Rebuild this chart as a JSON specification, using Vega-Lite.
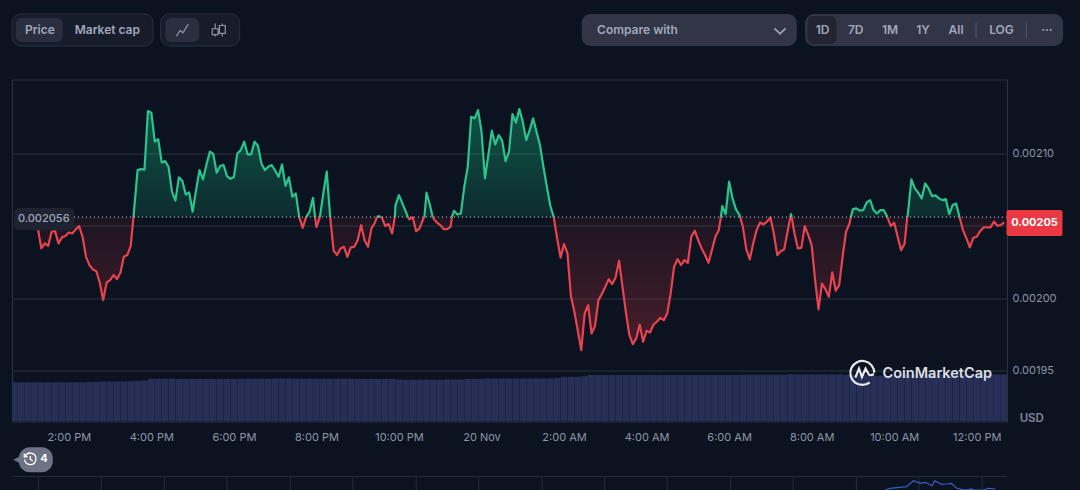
{
  "$schema": "https://vega.github.io/schema/vega-lite/v6.json",
  "width": 995,
  "height": 342,
  "autosize": "none",
  "padding": {"left": 12, "top": 79.5, "right": 73, "bottom": 68.5},
  "background": "#0b1220",
  "view": {"stroke": "#2b3340"},
  "config": {
    "font": "Inter",
    "style": {
      "btn": {"fontSize": 12, "fontWeight": 600, "baseline": "middle", "align": "center"}
    }
  },
  "data": {"values": [{}]},
  "datasets": {
    "volume": [
      {"time":"2023-11-19T12:40","volume":11.5},{"time":"2023-11-19T12:50","volume":11.5},{"time":"2023-11-19T13:00","volume":11.5},{"time":"2023-11-19T13:10","volume":11.5},{"time":"2023-11-19T13:20","volume":11.5},{"time":"2023-11-19T13:30","volume":11.5},{"time":"2023-11-19T13:40","volume":11.5},{"time":"2023-11-19T13:50","volume":11.5},{"time":"2023-11-19T14:00","volume":11.5},{"time":"2023-11-19T14:10","volume":11.5},{"time":"2023-11-19T14:20","volume":11.5},{"time":"2023-11-19T14:30","volume":11.6},{"time":"2023-11-19T14:40","volume":11.6},{"time":"2023-11-19T14:50","volume":11.7},{"time":"2023-11-19T15:00","volume":11.7},{"time":"2023-11-19T15:10","volume":11.7},{"time":"2023-11-19T15:20","volume":11.7},{"time":"2023-11-19T15:30","volume":11.8},{"time":"2023-11-19T15:40","volume":11.9},{"time":"2023-11-19T15:50","volume":12.0},{"time":"2023-11-19T16:00","volume":12.4},
      {"time":"2023-11-19T16:10","volume":12.5},{"time":"2023-11-19T16:20","volume":12.5},{"time":"2023-11-19T16:30","volume":12.5},{"time":"2023-11-19T16:40","volume":12.4},{"time":"2023-11-19T16:50","volume":12.4},{"time":"2023-11-19T17:00","volume":12.4},{"time":"2023-11-19T17:10","volume":12.4},{"time":"2023-11-19T17:20","volume":12.4},{"time":"2023-11-19T17:30","volume":12.4},{"time":"2023-11-19T17:40","volume":12.4},{"time":"2023-11-19T17:50","volume":12.4},{"time":"2023-11-19T18:00","volume":12.4},{"time":"2023-11-19T18:10","volume":12.5},{"time":"2023-11-19T18:20","volume":12.5},{"time":"2023-11-19T18:30","volume":12.5},{"time":"2023-11-19T18:40","volume":12.5},{"time":"2023-11-19T18:50","volume":12.5},{"time":"2023-11-19T19:00","volume":12.6},{"time":"2023-11-19T19:10","volume":12.6},{"time":"2023-11-19T19:20","volume":12.6},{"time":"2023-11-19T19:30","volume":12.5},{"time":"2023-11-19T19:40","volume":12.5},{"time":"2023-11-19T19:50","volume":12.5},{"time":"2023-11-19T20:00","volume":12.5},{"time":"2023-11-19T20:10","volume":12.5},{"time":"2023-11-19T20:20","volume":12.5},{"time":"2023-11-19T20:30","volume":12.5},{"time":"2023-11-19T20:40","volume":12.5},{"time":"2023-11-19T20:50","volume":12.5},{"time":"2023-11-19T21:00","volume":12.4},{"time":"2023-11-19T21:10","volume":12.4},{"time":"2023-11-19T21:20","volume":12.4},{"time":"2023-11-19T21:30","volume":12.4},{"time":"2023-11-19T21:40","volume":12.4},{"time":"2023-11-19T21:50","volume":12.4},{"time":"2023-11-19T22:00","volume":12.3},{"time":"2023-11-19T22:10","volume":12.2},{"time":"2023-11-19T22:20","volume":12.2},{"time":"2023-11-19T22:30","volume":12.2},{"time":"2023-11-19T22:40","volume":12.2},{"time":"2023-11-19T22:50","volume":12.2},{"time":"2023-11-19T23:00","volume":12.2},{"time":"2023-11-19T23:10","volume":12.3},{"time":"2023-11-19T23:20","volume":12.3},{"time":"2023-11-19T23:30","volume":12.3},{"time":"2023-11-19T23:40","volume":12.4},{"time":"2023-11-19T23:50","volume":12.4},
      {"time":"2023-11-20T00:00","volume":12.5},{"time":"2023-11-20T00:10","volume":12.6},{"time":"2023-11-20T00:20","volume":12.6},{"time":"2023-11-20T00:30","volume":12.6},{"time":"2023-11-20T00:40","volume":12.6},{"time":"2023-11-20T00:50","volume":12.6},{"time":"2023-11-20T01:00","volume":12.6},{"time":"2023-11-20T01:10","volume":12.6},{"time":"2023-11-20T01:20","volume":12.6},{"time":"2023-11-20T01:30","volume":12.6},{"time":"2023-11-20T01:40","volume":12.6},{"time":"2023-11-20T01:50","volume":12.7},{"time":"2023-11-20T02:00","volume":13.1},{"time":"2023-11-20T02:10","volume":13.1},{"time":"2023-11-20T02:20","volume":13.1},{"time":"2023-11-20T02:30","volume":13.2},{"time":"2023-11-20T02:40","volume":13.6},{"time":"2023-11-20T02:50","volume":13.6},{"time":"2023-11-20T03:00","volume":13.6},{"time":"2023-11-20T03:10","volume":13.6},{"time":"2023-11-20T03:20","volume":13.6},{"time":"2023-11-20T03:30","volume":13.6},{"time":"2023-11-20T03:40","volume":13.6},{"time":"2023-11-20T03:50","volume":13.6},{"time":"2023-11-20T04:00","volume":13.6},{"time":"2023-11-20T04:10","volume":13.6},{"time":"2023-11-20T04:20","volume":13.6},{"time":"2023-11-20T04:30","volume":13.6},{"time":"2023-11-20T04:40","volume":13.6},{"time":"2023-11-20T04:50","volume":13.6},{"time":"2023-11-20T05:00","volume":13.6},{"time":"2023-11-20T05:10","volume":13.6},{"time":"2023-11-20T05:20","volume":13.6},{"time":"2023-11-20T05:30","volume":13.6},{"time":"2023-11-20T05:40","volume":13.6},{"time":"2023-11-20T05:50","volume":13.6},{"time":"2023-11-20T06:00","volume":13.6},{"time":"2023-11-20T06:10","volume":13.6},{"time":"2023-11-20T06:20","volume":13.7},{"time":"2023-11-20T06:30","volume":13.7},{"time":"2023-11-20T06:40","volume":13.7},{"time":"2023-11-20T06:50","volume":13.7},{"time":"2023-11-20T07:00","volume":13.7},{"time":"2023-11-20T07:10","volume":13.7},{"time":"2023-11-20T07:20","volume":13.7},{"time":"2023-11-20T07:30","volume":13.8},{"time":"2023-11-20T07:40","volume":13.8},{"time":"2023-11-20T07:50","volume":13.8},{"time":"2023-11-20T08:00","volume":13.8},{"time":"2023-11-20T08:10","volume":13.8},{"time":"2023-11-20T08:20","volume":13.8},{"time":"2023-11-20T08:30","volume":13.8},{"time":"2023-11-20T08:40","volume":13.8},{"time":"2023-11-20T08:50","volume":13.7},{"time":"2023-11-20T09:00","volume":13.7},{"time":"2023-11-20T09:10","volume":13.7},{"time":"2023-11-20T09:20","volume":13.6},{"time":"2023-11-20T09:30","volume":13.4},{"time":"2023-11-20T09:40","volume":13.4},{"time":"2023-11-20T09:50","volume":13.4},{"time":"2023-11-20T10:00","volume":13.5},{"time":"2023-11-20T10:10","volume":13.7},{"time":"2023-11-20T10:20","volume":13.8},{"time":"2023-11-20T10:30","volume":13.8},{"time":"2023-11-20T10:40","volume":13.8},{"time":"2023-11-20T10:50","volume":13.8},{"time":"2023-11-20T11:00","volume":13.8},{"time":"2023-11-20T11:10","volume":13.8},{"time":"2023-11-20T11:20","volume":13.8},{"time":"2023-11-20T11:30","volume":13.8},{"time":"2023-11-20T11:40","volume":13.8},{"time":"2023-11-20T11:50","volume":13.8},{"time":"2023-11-20T12:00","volume":13.8},{"time":"2023-11-20T12:10","volume":13.8},{"time":"2023-11-20T12:20","volume":13.8},{"time":"2023-11-20T12:30","volume":13.8},{"time":"2023-11-20T12:40","volume":13.8}
    ],
    "above": [
      {"time":"2023-11-19T15:34","price":0.002056,"run":1},{"time":"2023-11-19T15:40","price":0.0020884,"run":1},{"time":"2023-11-19T15:45","price":0.0020891,"run":1},{"time":"2023-11-19T15:50","price":0.0020887,"run":1},{"time":"2023-11-19T15:55","price":0.0021291,"run":1},{"time":"2023-11-19T16:00","price":0.002128,"run":1},{"time":"2023-11-19T16:05","price":0.002108,"run":1},{"time":"2023-11-19T16:10","price":0.0021098,"run":1},{"time":"2023-11-19T16:15","price":0.0020937,"run":1},{"time":"2023-11-19T16:20","price":0.0020946,"run":1},{"time":"2023-11-19T16:25","price":0.0020907,"run":1},{"time":"2023-11-19T16:30","price":0.0020735,"run":1},{"time":"2023-11-19T16:35","price":0.0020673,"run":1},{"time":"2023-11-19T16:40","price":0.0020834,"run":1},{"time":"2023-11-19T16:45","price":0.0020811,"run":1},{"time":"2023-11-19T16:50","price":0.0020716,"run":1},{"time":"2023-11-19T16:55","price":0.002073,"run":1},{"time":"2023-11-19T17:00","price":0.0020597,"run":1},{"time":"2023-11-19T17:05","price":0.0020746,"run":1},{"time":"2023-11-19T17:10","price":0.0020884,"run":1},{"time":"2023-11-19T17:15","price":0.002082,"run":1},{"time":"2023-11-19T17:20","price":0.0020919,"run":1},{"time":"2023-11-19T17:25","price":0.0021011,"run":1},{"time":"2023-11-19T17:30","price":0.0020995,"run":1},{"time":"2023-11-19T17:35","price":0.0020866,"run":1},{"time":"2023-11-19T17:40","price":0.0020912,"run":1},{"time":"2023-11-19T17:45","price":0.0020919,"run":1},{"time":"2023-11-19T17:50","price":0.0020843,"run":1},{"time":"2023-11-19T17:55","price":0.0020824,"run":1},{"time":"2023-11-19T18:00","price":0.0020836,"run":1},{"time":"2023-11-19T18:05","price":0.0020999,"run":1},{"time":"2023-11-19T18:10","price":0.0021022,"run":1},{"time":"2023-11-19T18:15","price":0.002108,"run":1},{"time":"2023-11-19T18:20","price":0.0020992,"run":1},{"time":"2023-11-19T18:25","price":0.0020992,"run":1},{"time":"2023-11-19T18:30","price":0.002108,"run":1},{"time":"2023-11-19T18:35","price":0.0021052,"run":1},{"time":"2023-11-19T18:40","price":0.002093,"run":1},{"time":"2023-11-19T18:45","price":0.0020884,"run":1},{"time":"2023-11-19T18:50","price":0.0020907,"run":1},{"time":"2023-11-19T18:55","price":0.0020919,"run":1},{"time":"2023-11-19T19:00","price":0.002088,"run":1},{"time":"2023-11-19T19:05","price":0.0020838,"run":1},{"time":"2023-11-19T19:10","price":0.0020923,"run":1},{"time":"2023-11-19T19:15","price":0.0020776,"run":1},{"time":"2023-11-19T19:20","price":0.0020834,"run":1},{"time":"2023-11-19T19:25","price":0.00207,"run":1},{"time":"2023-11-19T19:30","price":0.0020723,"run":1},{"time":"2023-11-19T19:35","price":0.002056,"run":1},
      {"time":"2023-11-19T19:45","price":0.002056,"run":2},{"time":"2023-11-19T19:50","price":0.0020597,"run":2},{"time":"2023-11-19T19:55","price":0.0020693,"run":2},{"time":"2023-11-19T19:58","price":0.002056,"run":2},
      {"time":"2023-11-19T20:05","price":0.002056,"run":3},{"time":"2023-11-19T20:10","price":0.0020723,"run":3},{"time":"2023-11-19T20:15","price":0.0020873,"run":3},{"time":"2023-11-19T20:20","price":0.002056,"run":3},
      {"time":"2023-11-19T21:28","price":0.002056,"run":4},{"time":"2023-11-19T21:30","price":0.0020567,"run":4},{"time":"2023-11-19T21:33","price":0.002056,"run":4},
      {"time":"2023-11-19T21:54","price":0.002056,"run":5},{"time":"2023-11-19T21:55","price":0.0020643,"run":5},{"time":"2023-11-19T22:00","price":0.0020712,"run":5},{"time":"2023-11-19T22:05","price":0.0020654,"run":5},{"time":"2023-11-19T22:10","price":0.0020597,"run":5},{"time":"2023-11-19T22:13","price":0.002056,"run":5},
      {"time":"2023-11-19T22:37","price":0.002056,"run":6},{"time":"2023-11-19T22:40","price":0.0020728,"run":6},{"time":"2023-11-19T22:45","price":0.0020643,"run":6},{"time":"2023-11-19T22:49","price":0.002056,"run":6},
      {"time":"2023-11-19T23:17","price":0.002056,"run":7},{"time":"2023-11-19T23:20","price":0.0020603,"run":7},{"time":"2023-11-19T23:25","price":0.0020578,"run":7},{"time":"2023-11-19T23:30","price":0.0020585,"run":7},{"time":"2023-11-19T23:35","price":0.0020769,"run":7},{"time":"2023-11-19T23:40","price":0.0020907,"run":7},{"time":"2023-11-19T23:45","price":0.0021252,"run":7},{"time":"2023-11-19T23:50","price":0.0021241,"run":7},{"time":"2023-11-19T23:55","price":0.0021298,"run":7},{"time":"2023-11-20T00:00","price":0.0021149,"run":7},{"time":"2023-11-20T00:05","price":0.0020827,"run":7},{"time":"2023-11-20T00:10","price":0.0020988,"run":7},{"time":"2023-11-20T00:15","price":0.0021156,"run":7},{"time":"2023-11-20T00:20","price":0.0021061,"run":7},{"time":"2023-11-20T00:25","price":0.0021126,"run":7},{"time":"2023-11-20T00:30","price":0.0021087,"run":7},{"time":"2023-11-20T00:35","price":0.0020946,"run":7},{"time":"2023-11-20T00:40","price":0.0021011,"run":7},{"time":"2023-11-20T00:45","price":0.0021271,"run":7},{"time":"2023-11-20T00:50","price":0.0021211,"run":7},{"time":"2023-11-20T00:55","price":0.0021305,"run":7},{"time":"2023-11-20T01:00","price":0.0021218,"run":7},{"time":"2023-11-20T01:05","price":0.0021091,"run":7},{"time":"2023-11-20T01:10","price":0.002116,"run":7},{"time":"2023-11-20T01:15","price":0.0021241,"run":7},{"time":"2023-11-20T01:20","price":0.0021149,"run":7},{"time":"2023-11-20T01:25","price":0.0021057,"run":7},{"time":"2023-11-20T01:30","price":0.0020907,"run":7},{"time":"2023-11-20T01:35","price":0.0020769,"run":7},{"time":"2023-11-20T01:40","price":0.0020638,"run":7},{"time":"2023-11-20T01:45","price":0.002056,"run":7},
      {"time":"2023-11-20T05:48","price":0.002056,"run":8},{"time":"2023-11-20T05:50","price":0.0020636,"run":8},{"time":"2023-11-20T05:55","price":0.0020581,"run":8},{"time":"2023-11-20T06:00","price":0.0020804,"run":8},{"time":"2023-11-20T06:05","price":0.0020689,"run":8},{"time":"2023-11-20T06:10","price":0.0020613,"run":8},{"time":"2023-11-20T06:15","price":0.0020574,"run":8},{"time":"2023-11-20T06:16","price":0.002056,"run":8},
      {"time":"2023-11-20T07:29","price":0.002056,"run":9},{"time":"2023-11-20T07:30","price":0.0020581,"run":9},{"time":"2023-11-20T07:31","price":0.002056,"run":9},
      {"time":"2023-11-20T08:57","price":0.002056,"run":10},{"time":"2023-11-20T09:00","price":0.0020615,"run":10},{"time":"2023-11-20T09:05","price":0.002062,"run":10},{"time":"2023-11-20T09:10","price":0.0020604,"run":10},{"time":"2023-11-20T09:15","price":0.0020608,"run":10},{"time":"2023-11-20T09:20","price":0.0020661,"run":10},{"time":"2023-11-20T09:25","price":0.0020677,"run":10},{"time":"2023-11-20T09:30","price":0.0020608,"run":10},{"time":"2023-11-20T09:35","price":0.0020585,"run":10},{"time":"2023-11-20T09:40","price":0.0020608,"run":10},{"time":"2023-11-20T09:45","price":0.0020608,"run":10},{"time":"2023-11-20T09:50","price":0.002056,"run":10},
      {"time":"2023-11-20T10:19","price":0.002056,"run":11},{"time":"2023-11-20T10:20","price":0.0020585,"run":11},{"time":"2023-11-20T10:25","price":0.002082,"run":11},{"time":"2023-11-20T10:30","price":0.0020758,"run":11},{"time":"2023-11-20T10:35","price":0.0020728,"run":11},{"time":"2023-11-20T10:40","price":0.0020689,"run":11},{"time":"2023-11-20T10:45","price":0.0020792,"run":11},{"time":"2023-11-20T10:50","price":0.0020758,"run":11},{"time":"2023-11-20T10:55","price":0.0020705,"run":11},{"time":"2023-11-20T11:00","price":0.002071,"run":11},{"time":"2023-11-20T11:05","price":0.0020689,"run":11},{"time":"2023-11-20T11:10","price":0.0020677,"run":11},{"time":"2023-11-20T11:15","price":0.0020684,"run":11},{"time":"2023-11-20T11:20","price":0.0020581,"run":11},{"time":"2023-11-20T11:25","price":0.0020643,"run":11},{"time":"2023-11-20T11:30","price":0.0020654,"run":11},{"time":"2023-11-20T11:35","price":0.002056,"run":11}
    ],
    "below": [
      {"time":"2023-11-19T13:15","price":0.0020482,"run":1},{"time":"2023-11-19T13:20","price":0.0020344,"run":1},{"time":"2023-11-19T13:25","price":0.0020378,"run":1},{"time":"2023-11-19T13:30","price":0.0020362,"run":1},{"time":"2023-11-19T13:35","price":0.0020459,"run":1},{"time":"2023-11-19T13:40","price":0.0020463,"run":1},{"time":"2023-11-19T13:45","price":0.0020378,"run":1},{"time":"2023-11-19T13:50","price":0.002042,"run":1},{"time":"2023-11-19T13:55","price":0.0020429,"run":1},{"time":"2023-11-19T14:00","price":0.0020454,"run":1},{"time":"2023-11-19T14:05","price":0.0020447,"run":1},{"time":"2023-11-19T14:10","price":0.0020475,"run":1},{"time":"2023-11-19T14:15","price":0.0020498,"run":1},{"time":"2023-11-19T14:20","price":0.0020424,"run":1},{"time":"2023-11-19T14:25","price":0.0020286,"run":1},{"time":"2023-11-19T14:30","price":0.0020229,"run":1},{"time":"2023-11-19T14:35","price":0.0020199,"run":1},{"time":"2023-11-19T14:40","price":0.0020187,"run":1},{"time":"2023-11-19T14:45","price":0.0020107,"run":1},{"time":"2023-11-19T14:50","price":0.0019987,"run":1},{"time":"2023-11-19T14:55","price":0.0020109,"run":1},{"time":"2023-11-19T15:00","price":0.0020125,"run":1},{"time":"2023-11-19T15:05","price":0.002016,"run":1},{"time":"2023-11-19T15:10","price":0.0020132,"run":1},{"time":"2023-11-19T15:15","price":0.0020176,"run":1},{"time":"2023-11-19T15:20","price":0.0020286,"run":1},{"time":"2023-11-19T15:25","price":0.0020298,"run":1},{"time":"2023-11-19T15:30","price":0.0020362,"run":1},{"time":"2023-11-19T15:34","price":0.002056,"run":1},
      {"time":"2023-11-19T19:35","price":0.002056,"run":2},{"time":"2023-11-19T19:40","price":0.0020486,"run":2},{"time":"2023-11-19T19:45","price":0.002056,"run":2},
      {"time":"2023-11-19T19:58","price":0.002056,"run":3},{"time":"2023-11-19T20:00","price":0.0020491,"run":3},{"time":"2023-11-19T20:05","price":0.002056,"run":3},
      {"time":"2023-11-19T20:20","price":0.002056,"run":4},{"time":"2023-11-19T20:25","price":0.0020328,"run":4},{"time":"2023-11-19T20:30","price":0.0020298,"run":4},{"time":"2023-11-19T20:35","price":0.0020344,"run":4},{"time":"2023-11-19T20:40","price":0.0020355,"run":4},{"time":"2023-11-19T20:45","price":0.0020286,"run":4},{"time":"2023-11-19T20:50","price":0.0020351,"run":4},{"time":"2023-11-19T20:55","price":0.0020355,"run":4},{"time":"2023-11-19T21:00","price":0.0020401,"run":4},{"time":"2023-11-19T21:05","price":0.0020505,"run":4},{"time":"2023-11-19T21:10","price":0.0020401,"run":4},{"time":"2023-11-19T21:15","price":0.0020355,"run":4},{"time":"2023-11-19T21:20","price":0.0020482,"run":4},{"time":"2023-11-19T21:25","price":0.0020521,"run":4},{"time":"2023-11-19T21:28","price":0.002056,"run":4},
      {"time":"2023-11-19T21:33","price":0.002056,"run":5},{"time":"2023-11-19T21:35","price":0.0020558,"run":5},{"time":"2023-11-19T21:40","price":0.0020498,"run":5},{"time":"2023-11-19T21:45","price":0.0020512,"run":5},{"time":"2023-11-19T21:50","price":0.0020447,"run":5},{"time":"2023-11-19T21:54","price":0.002056,"run":5},
      {"time":"2023-11-19T22:13","price":0.002056,"run":6},{"time":"2023-11-19T22:15","price":0.0020544,"run":6},{"time":"2023-11-19T22:20","price":0.0020559,"run":6},{"time":"2023-11-19T22:25","price":0.0020463,"run":6},{"time":"2023-11-19T22:30","price":0.0020482,"run":6},{"time":"2023-11-19T22:35","price":0.0020544,"run":6},{"time":"2023-11-19T22:37","price":0.002056,"run":6},
      {"time":"2023-11-19T22:49","price":0.002056,"run":7},{"time":"2023-11-19T22:50","price":0.0020551,"run":7},{"time":"2023-11-19T22:55","price":0.0020523,"run":7},{"time":"2023-11-19T23:00","price":0.0020505,"run":7},{"time":"2023-11-19T23:05","price":0.0020477,"run":7},{"time":"2023-11-19T23:10","price":0.0020477,"run":7},{"time":"2023-11-19T23:15","price":0.0020493,"run":7},{"time":"2023-11-19T23:17","price":0.002056,"run":7},
      {"time":"2023-11-20T01:45","price":0.002056,"run":8},{"time":"2023-11-20T01:50","price":0.0020413,"run":8},{"time":"2023-11-20T01:55","price":0.002028,"run":8},{"time":"2023-11-20T02:00","price":0.0020374,"run":8},{"time":"2023-11-20T02:05","price":0.0020309,"run":8},{"time":"2023-11-20T02:10","price":0.0020015,"run":8},{"time":"2023-11-20T02:15","price":0.0019907,"run":8},{"time":"2023-11-20T02:20","price":0.0019776,"run":8},{"time":"2023-11-20T02:25","price":0.0019642,"run":8},{"time":"2023-11-20T02:30","price":0.0019895,"run":8},{"time":"2023-11-20T02:35","price":0.0019953,"run":8},{"time":"2023-11-20T02:40","price":0.0019757,"run":8},{"time":"2023-11-20T02:45","price":0.0019808,"run":8},{"time":"2023-11-20T02:50","price":0.0019987,"run":8},{"time":"2023-11-20T02:55","price":0.0020029,"run":8},{"time":"2023-11-20T03:00","price":0.0020079,"run":8},{"time":"2023-11-20T03:05","price":0.0020132,"run":8},{"time":"2023-11-20T03:10","price":0.0020098,"run":8},{"time":"2023-11-20T03:15","price":0.0020144,"run":8},{"time":"2023-11-20T03:20","price":0.0020259,"run":8},{"time":"2023-11-20T03:25","price":0.0020079,"run":8},{"time":"2023-11-20T03:30","price":0.00199,"run":8},{"time":"2023-11-20T03:35","price":0.0019746,"run":8},{"time":"2023-11-20T03:40","price":0.0019684,"run":8},{"time":"2023-11-20T03:45","price":0.0019723,"run":8},{"time":"2023-11-20T03:50","price":0.0019819,"run":8},{"time":"2023-11-20T03:55","price":0.00197,"run":8},{"time":"2023-11-20T04:00","price":0.0019776,"run":8},{"time":"2023-11-20T04:05","price":0.0019764,"run":8},{"time":"2023-11-20T04:10","price":0.0019819,"run":8},{"time":"2023-11-20T04:15","price":0.0019838,"run":8},{"time":"2023-11-20T04:20","price":0.0019865,"run":8},{"time":"2023-11-20T04:25","price":0.0019849,"run":8},{"time":"2023-11-20T04:30","price":0.0019895,"run":8},{"time":"2023-11-20T04:35","price":0.0020033,"run":8},{"time":"2023-11-20T04:40","price":0.0020217,"run":8},{"time":"2023-11-20T04:45","price":0.002027,"run":8},{"time":"2023-11-20T04:50","price":0.0020229,"run":8},{"time":"2023-11-20T04:55","price":0.0020263,"run":8},{"time":"2023-11-20T05:00","price":0.0020245,"run":8},{"time":"2023-11-20T05:05","price":0.0020424,"run":8},{"time":"2023-11-20T05:10","price":0.0020466,"run":8},{"time":"2023-11-20T05:15","price":0.0020401,"run":8},{"time":"2023-11-20T05:20","price":0.0020344,"run":8},{"time":"2023-11-20T05:25","price":0.0020298,"run":8},{"time":"2023-11-20T05:30","price":0.0020245,"run":8},{"time":"2023-11-20T05:35","price":0.0020332,"run":8},{"time":"2023-11-20T05:40","price":0.0020424,"run":8},{"time":"2023-11-20T05:45","price":0.002047,"run":8},{"time":"2023-11-20T05:48","price":0.002056,"run":8},
      {"time":"2023-11-20T06:16","price":0.002056,"run":9},{"time":"2023-11-20T06:20","price":0.0020493,"run":9},{"time":"2023-11-20T06:25","price":0.0020337,"run":9},{"time":"2023-11-20T06:30","price":0.0020268,"run":9},{"time":"2023-11-20T06:35","price":0.0020378,"run":9},{"time":"2023-11-20T06:40","price":0.002047,"run":9},{"time":"2023-11-20T06:45","price":0.0020523,"run":9},{"time":"2023-11-20T06:50","price":0.0020509,"run":9},{"time":"2023-11-20T06:55","price":0.0020528,"run":9},{"time":"2023-11-20T07:00","price":0.0020558,"run":9},{"time":"2023-11-20T07:05","price":0.0020447,"run":9},{"time":"2023-11-20T07:10","price":0.0020298,"run":9},{"time":"2023-11-20T07:15","price":0.0020325,"run":9},{"time":"2023-11-20T07:20","price":0.0020337,"run":9},{"time":"2023-11-20T07:25","price":0.0020459,"run":9},{"time":"2023-11-20T07:29","price":0.002056,"run":9},
      {"time":"2023-11-20T07:31","price":0.002056,"run":10},{"time":"2023-11-20T07:35","price":0.0020447,"run":10},{"time":"2023-11-20T07:40","price":0.0020344,"run":10},{"time":"2023-11-20T07:45","price":0.0020348,"run":10},{"time":"2023-11-20T07:50","price":0.0020498,"run":10},{"time":"2023-11-20T07:55","price":0.0020436,"run":10},{"time":"2023-11-20T08:00","price":0.0020367,"run":10},{"time":"2023-11-20T08:05","price":0.0020125,"run":10},{"time":"2023-11-20T08:10","price":0.0019923,"run":10},{"time":"2023-11-20T08:15","price":0.0020102,"run":10},{"time":"2023-11-20T08:20","price":0.0020063,"run":10},{"time":"2023-11-20T08:25","price":0.002001,"run":10},{"time":"2023-11-20T08:30","price":0.0020178,"run":10},{"time":"2023-11-20T08:35","price":0.0020052,"run":10},{"time":"2023-11-20T08:40","price":0.0020091,"run":10},{"time":"2023-11-20T08:45","price":0.0020286,"run":10},{"time":"2023-11-20T08:50","price":0.0020459,"run":10},{"time":"2023-11-20T08:55","price":0.0020516,"run":10},{"time":"2023-11-20T08:57","price":0.002056,"run":10},
      {"time":"2023-11-20T09:50","price":0.002056,"run":11},{"time":"2023-11-20T09:55","price":0.0020498,"run":11},{"time":"2023-11-20T10:00","price":0.0020521,"run":11},{"time":"2023-11-20T10:05","price":0.0020424,"run":11},{"time":"2023-11-20T10:10","price":0.0020332,"run":11},{"time":"2023-11-20T10:15","price":0.0020374,"run":11},{"time":"2023-11-20T10:19","price":0.002056,"run":11},
      {"time":"2023-11-20T11:35","price":0.002056,"run":12},{"time":"2023-11-20T11:40","price":0.002047,"run":12},{"time":"2023-11-20T11:45","price":0.0020413,"run":12},{"time":"2023-11-20T11:50","price":0.0020351,"run":12},{"time":"2023-11-20T11:55","price":0.0020417,"run":12},{"time":"2023-11-20T12:00","price":0.0020424,"run":12},{"time":"2023-11-20T12:05","price":0.0020463,"run":12},{"time":"2023-11-20T12:10","price":0.0020489,"run":12},{"time":"2023-11-20T12:15","price":0.0020489,"run":12},{"time":"2023-11-20T12:20","price":0.0020489,"run":12},{"time":"2023-11-20T12:25","price":0.0020528,"run":12},{"time":"2023-11-20T12:30","price":0.00205,"run":12},{"time":"2023-11-20T12:35","price":0.0020505,"run":12},{"time":"2023-11-20T12:40","price":0.0020523,"run":12}
    ],
    "navTicks": [
      {"time":"2023-11-19T13:16"},{"time":"2023-11-19T14:47"},{"time":"2023-11-19T16:19"},{"time":"2023-11-19T17:50"},{"time":"2023-11-19T19:22"},{"time":"2023-11-19T20:53"},{"time":"2023-11-19T22:25"},{"time":"2023-11-19T23:56"},{"time":"2023-11-20T01:28"},{"time":"2023-11-20T02:59"},{"time":"2023-11-20T04:30"},{"time":"2023-11-20T06:02"},{"time":"2023-11-20T07:33"},{"time":"2023-11-20T09:05"},{"time":"2023-11-20T10:36"},{"time":"2023-11-20T12:08"}
    ],
    "navLine": [
      {"time":"2023-11-20T09:47","level":0},{"time":"2023-11-20T09:54","level":1.7},{"time":"2023-11-20T10:18","level":3.3},{"time":"2023-11-20T10:28","level":9.3},{"time":"2023-11-20T10:38","level":6.7},{"time":"2023-11-20T10:45","level":7.7},{"time":"2023-11-20T10:55","level":4.3},{"time":"2023-11-20T10:59","level":9.3},{"time":"2023-11-20T11:09","level":5.7},{"time":"2023-11-20T11:16","level":6},{"time":"2023-11-20T11:23","level":6.7},{"time":"2023-11-20T11:31","level":1.7},{"time":"2023-11-20T11:43","level":0},{"time":"2023-11-20T11:53","level":1},{"time":"2023-11-20T11:55","level":0},{"time":"2023-11-20T12:10","level":0},{"time":"2023-11-20T12:17","level":1.7},{"time":"2023-11-20T12:27","level":1}
    ]
  },
  "resolve": {"scale": {"y": "independent"}},
  "layer": [
    {
      "data": {"name": "volume"},
      "mark": {"type": "bar", "width": 6.7, "color": "#272f56", "clip": true},
      "encoding": {
        "x": {
          "field": "time",
          "type": "temporal",
          "scale": {"domain": ["2023-11-19T12:37:24", "2023-11-20T12:44:00"], "padding": 0, "nice": false},
          "title": null,
          "axis": {
            "values": ["2023-11-19T14:00","2023-11-19T16:00","2023-11-19T18:00","2023-11-19T20:00","2023-11-19T22:00","2023-11-20T00:00","2023-11-20T02:00","2023-11-20T04:00","2023-11-20T06:00","2023-11-20T08:00","2023-11-20T10:00","2023-11-20T12:00"],
            "labelExpr": "hours(datum.value) == 0 ? '20 Nov' : timeFormat(datum.value, '%-I:%M %p')",
            "domain": false,
            "ticks": false,
            "grid": false,
            "labelPadding": 10,
            "labelFontSize": 11,
            "labelColor": "#8f95a6",
            "labelFlush": false,
            "labelOverlap": false
          }
        },
        "y": {"field": "volume", "type": "quantitative", "scale": {"domain": [0, 100], "padding": 0, "nice": false}, "axis": null}
      }
    },
    {
      "layer": [
        {
          "data": {"name": "above"},
          "mark": {"type": "area", "color": {"gradient": "linear", "x1": 0, "y1": 0, "x2": 0, "y2": 1, "stops": [{"offset": 0, "color": "rgba(22,199,132,0.36)"}, {"offset": 1, "color": "rgba(22,199,132,0.14)"}]}},
          "encoding": {
            "x": {"field": "time", "type": "temporal"},
            "y": {
              "field": "price",
              "type": "quantitative",
              "scale": {"domain": [0.001915, 0.0021509], "padding": 0, "nice": false, "zero": false},
              "title": null,
              "axis": {"orient": "right", "values": [0.00195, 0.002, 0.00205, 0.0021], "labelExpr": "format(datum.value, '.5f') == '0.00205' ? '' : format(datum.value, '.5f')", "domain": false, "ticks": false, "labelPadding": 5, "labelFontSize": 11, "labelColor": "#8f95a6", "gridColor": "#2a3340", "gridOpacity": 1, "grid": true}
            },
            "y2": {"datum": 0.002056}
          }
        },
        {
          "data": {"name": "below"},
          "mark": {"type": "area", "color": {"gradient": "linear", "x1": 0, "y1": 0, "x2": 0, "y2": 1, "stops": [{"offset": 0, "color": "rgba(234,57,67,0.08)"}, {"offset": 1, "color": "rgba(234,57,67,0.28)"}]}},
          "encoding": {
            "x": {"field": "time", "type": "temporal"},
            "y": {"field": "price", "type": "quantitative"},
            "y2": {"datum": 0.002056}
          }
        },
        {
          "data": {"name": "above"},
          "mark": {"type": "line", "color": "#2bc48d", "strokeWidth": 2.2, "strokeJoin": "round"},
          "encoding": {
            "x": {"field": "time", "type": "temporal"},
            "y": {"field": "price", "type": "quantitative"},
            "detail": {"field": "run"}
          }
        },
        {
          "data": {"name": "below"},
          "mark": {"type": "line", "color": "#e8434f", "strokeWidth": 2.2, "strokeJoin": "round"},
          "encoding": {
            "x": {"field": "time", "type": "temporal"},
            "y": {"field": "price", "type": "quantitative"},
            "detail": {"field": "run"}
          }
        },
        {"mark": {"type": "rule", "stroke": "#d5d8e0", "strokeDash": [1, 3], "strokeWidth": 1}, "encoding": {"y": {"datum": 0.002056}}},
        {"mark": {"type": "rect", "width": 60, "cornerRadius": 5, "fill": "#1f2331"}, "encoding": {"x": {"datum": {"year":2023,"month":11,"date":19,"hours":13,"minutes":24}, "type": "temporal"}, "y": {"datum": 0.0020622}, "y2": {"datum": 0.002047}}},
        {"mark": {"type": "text", "text": "0.002056", "align": "left", "baseline": "middle", "fontSize": 11, "fontWeight": 500, "fill": "#a1a7bb"}, "encoding": {"x": {"datum": {"year":2023,"month":11,"date":19,"hours":12,"minutes":46}, "type": "temporal"}, "y": {"datum": 0.0020546}}},
        {"mark": {"type": "rect", "width": 56, "cornerRadius": 2, "fill": "#ea3943"}, "encoding": {"x": {"datum": {"year":2023,"month":11,"date":20,"hours":13,"minutes":24}, "type": "temporal"}, "y": {"datum": 0.0020608}, "y2": {"datum": 0.0020429}}},
        {"mark": {"type": "text", "text": "0.00205", "align": "center", "baseline": "middle", "fontSize": 11, "fontWeight": 700, "fill": "#ffffff"}, "encoding": {"x": {"datum": {"year":2023,"month":11,"date":20,"hours":13,"minutes":24}, "type": "temporal"}, "y": {"datum": 0.0020519}}},
        {"mark": {"type": "text", "text": "USD", "align": "center", "baseline": "middle", "fontSize": 11.5, "fontWeight": 600, "fill": "#808698"}, "encoding": {"x": {"datum": {"year":2023,"month":11,"date":20,"hours":13,"minutes":20}, "type": "temporal"}, "y": {"datum": 0.0019168}}},
        {"mark": {"type": "point", "filled": false, "shape": "M0.6,0.8A1,1 0 1 1 0.98,0M-0.6,0.4L-0.3,-0.35L-0.05,0.35L0.25,-0.35L0.5,0.1Q0.62,0.3 0.95,0.1", "size": 576, "stroke": "#e8eaf0", "strokeWidth": 2.2, "opacity": 1}, "encoding": {"x": {"datum": {"year":2023,"month":11,"date":20,"hours":9,"minutes":14}, "type": "temporal"}, "y": {"datum": 0.0019486}}},
        {"mark": {"type": "text", "text": "CoinMarketCap", "align": "left", "baseline": "middle", "fontSize": 14.5, "fontWeight": 600, "fill": "#dcdfe6"}, "encoding": {"x": {"datum": {"year":2023,"month":11,"date":20,"hours":9,"minutes":43}, "type": "temporal"}, "y": {"datum": 0.0019477}}},
        {"mark": {"type": "rect", "width": 141, "cornerRadius": 9, "fill": "#171c2a", "stroke": "#2b3040"}, "encoding": {"x": {"datum": {"year":2023,"month":11,"date":19,"hours":14,"minutes":20}, "type": "temporal"}, "y": {"datum": 0.0021961}, "y2": {"datum": 0.002174}}},
        {"mark": {"type": "rect", "width": 47, "cornerRadius": 6, "fill": "#2a2e3e"}, "encoding": {"x": {"datum": {"year":2023,"month":11,"date":19,"hours":13,"minutes":17}, "type": "temporal"}, "y": {"datum": 0.0021933}, "y2": {"datum": 0.0021768}}},
        {"mark": {"type": "text", "text": "Price", "style": "btn", "fill": "#a1a7bb"}, "encoding": {"x": {"datum": {"year":2023,"month":11,"date":19,"hours":13,"minutes":18}, "type": "temporal"}, "y": {"datum": 0.002185}}},
        {"mark": {"type": "text", "text": "Market cap", "style": "btn", "fill": "#a1a7bb"}, "encoding": {"x": {"datum": {"year":2023,"month":11,"date":19,"hours":14,"minutes":56}, "type": "temporal"}, "y": {"datum": 0.002185}}},
        {"mark": {"type": "rect", "width": 79, "cornerRadius": 9, "fill": "#171c2a", "stroke": "#2b3040"}, "encoding": {"x": {"datum": {"year":2023,"month":11,"date":19,"hours":17,"minutes":11}, "type": "temporal"}, "y": {"datum": 0.0021961}, "y2": {"datum": 0.002174}}},
        {"mark": {"type": "rect", "width": 34, "cornerRadius": 6, "fill": "#2a2e3e"}, "encoding": {"x": {"datum": {"year":2023,"month":11,"date":19,"hours":16,"minutes":45}, "type": "temporal"}, "y": {"datum": 0.0021933}, "y2": {"datum": 0.0021768}}},
        {"mark": {"type": "point", "filled": false, "opacity": 1, "stroke": "#8f95a8", "strokeWidth": 1.2, "shape": "M-1,1L-0.35,0.05L0.1,0.45L1,-1", "size": 144}, "encoding": {"x": {"datum": {"year":2023,"month":11,"date":19,"hours":16,"minutes":45}, "type": "temporal"}, "y": {"datum": 0.002185}}},
        {"mark": {"type": "point", "filled": false, "opacity": 1, "stroke": "#8f95a8", "strokeWidth": 1.2, "shape": "M-0.55,-1V-0.2M-1,-0.2H-0.1V0.7H-1ZM-0.55,0.7V1M0.55,-1V-0.7M0.1,-0.7H1V0.5H0.1ZM0.55,0.5V1", "size": 169}, "encoding": {"x": {"datum": {"year":2023,"month":11,"date":19,"hours":17,"minutes":38}, "type": "temporal"}, "y": {"datum": 0.002185}}},
        {"mark": {"type": "rect", "width": 215, "cornerRadius": 9, "fill": "#323546"}, "encoding": {"x": {"datum": {"year":2023,"month":11,"date":20,"hours":5,"minutes":2}, "type": "temporal"}, "y": {"datum": 0.0021961}, "y2": {"datum": 0.002174}}},
        {"mark": {"type": "text", "text": "Compare with", "style": "btn", "align": "left", "fill": "#a1a7bb"}, "encoding": {"x": {"datum": {"year":2023,"month":11,"date":20,"hours":2,"minutes":48}, "type": "temporal"}, "y": {"datum": 0.002185}}},
        {"mark": {"type": "point", "filled": false, "opacity": 1, "shape": "M-1,-0.5L0,0.5L1,-0.5", "size": 121, "strokeWidth": 1.6, "stroke": "#a1a7bb"}, "encoding": {"x": {"datum": {"year":2023,"month":11,"date":20,"hours":7,"minutes":14}, "type": "temporal"}, "y": {"datum": 0.0021843}}},
        {"mark": {"type": "rect", "width": 258, "cornerRadius": 9, "fill": "#323546"}, "encoding": {"x": {"datum": {"year":2023,"month":11,"date":20,"hours":10,"minutes":58}, "type": "temporal"}, "y": {"datum": 0.0021961}, "y2": {"datum": 0.002174}}},
        {"mark": {"type": "rect", "width": 29, "cornerRadius": 6, "fill": "#222531"}, "encoding": {"x": {"datum": {"year":2023,"month":11,"date":20,"hours":8,"minutes":15}, "type": "temporal"}, "y": {"datum": 0.0021947}, "y2": {"datum": 0.0021754}}},
        {"mark": {"type": "text", "text": "1D", "style": "btn", "fill": "#a1a7bb"}, "encoding": {"x": {"datum": {"year":2023,"month":11,"date":20,"hours":8,"minutes":16}, "type": "temporal"}, "y": {"datum": 0.002185}}},
        {"mark": {"type": "text", "text": "7D", "style": "btn", "fill": "#a1a7bb"}, "encoding": {"x": {"datum": {"year":2023,"month":11,"date":20,"hours":9,"minutes":4}, "type": "temporal"}, "y": {"datum": 0.002185}}},
        {"mark": {"type": "text", "text": "1M", "style": "btn", "fill": "#a1a7bb"}, "encoding": {"x": {"datum": {"year":2023,"month":11,"date":20,"hours":9,"minutes":54}, "type": "temporal"}, "y": {"datum": 0.002185}}},
        {"mark": {"type": "text", "text": "1Y", "style": "btn", "fill": "#a1a7bb"}, "encoding": {"x": {"datum": {"year":2023,"month":11,"date":20,"hours":10,"minutes":42}, "type": "temporal"}, "y": {"datum": 0.002185}}},
        {"mark": {"type": "text", "text": "All", "style": "btn", "fill": "#a1a7bb"}, "encoding": {"x": {"datum": {"year":2023,"month":11,"date":20,"hours":11,"minutes":30}, "type": "temporal"}, "y": {"datum": 0.002185}}},
        {"mark": {"type": "text", "text": "LOG", "style": "btn", "fill": "#a1a7bb"}, "encoding": {"x": {"datum": {"year":2023,"month":11,"date":20,"hours":12,"minutes":36}, "type": "temporal"}, "y": {"datum": 0.002185}}},
        {"mark": {"type": "text", "text": "···", "style": "btn", "fill": "#a1a7bb"}, "encoding": {"x": {"datum": {"year":2023,"month":11,"date":20,"hours":13,"minutes":42}, "type": "temporal"}, "y": {"datum": 0.002185}}},
        {"mark": {"type": "rule", "stroke": "#555a6c"}, "encoding": {"x": {"datum": {"year":2023,"month":11,"date":20,"hours":11,"minutes":59}, "type": "temporal"}, "y": {"datum": 0.0021899}, "y2": {"datum": 0.0021795}}},
        {"mark": {"type": "rule", "stroke": "#555a6c"}, "encoding": {"x": {"datum": {"year":2023,"month":11,"date":20,"hours":13,"minutes":12}, "type": "temporal"}, "y": {"datum": 0.0021899}, "y2": {"datum": 0.0021795}}},
        {"mark": {"type": "rect", "width": 34, "cornerRadius": 11, "fill": "#6d7285"}, "encoding": {"x": {"datum": {"year":2023,"month":11,"date":19,"hours":13,"minutes":12}, "type": "temporal"}, "y": {"datum": 0.0018973}, "y2": {"datum": 0.00188}}},
        {"mark": {"type": "point", "filled": true, "shape": "M1,-1L-1,0L1,1Z", "size": 64, "fill": "#6d7285", "opacity": 1}, "encoding": {"x": {"datum": {"year":2023,"month":11,"date":19,"hours":12,"minutes":45}, "type": "temporal"}, "y": {"datum": 0.0018887}}},
        {"mark": {"type": "point", "filled": false, "shape": "M-0.85,-0.45A0.95,0.95 0 1 1 -0.95,0.1M-1,-0.9V-0.35H-0.45M0,-0.5V0.05L0.4,0.35", "size": 144, "stroke": "#ffffff", "strokeWidth": 1.3, "opacity": 1}, "encoding": {"x": {"datum": {"year":2023,"month":11,"date":19,"hours":13,"minutes":4}, "type": "temporal"}, "y": {"datum": 0.0018892}}},
        {"mark": {"type": "text", "text": "4", "align": "center", "baseline": "middle", "fontSize": 11, "fontWeight": 700, "fill": "#ffffff"}, "encoding": {"x": {"datum": {"year":2023,"month":11,"date":19,"hours":13,"minutes":24}, "type": "temporal"}, "y": {"datum": 0.0018892}}},
        {"mark": {"type": "rule", "stroke": "#262c3a"}, "encoding": {"y": {"datum": 0.0018771}}},
        {
          "data": {"name": "navTicks"},
          "mark": {"type": "rule", "stroke": "#262c3a"},
          "encoding": {"x": {"field": "time", "type": "temporal"}, "y": {"datum": 0.0018771}, "y2": {"datum": 0.0018676}}
        }
      ]
    },
    {
      "data": {"name": "navLine"},
      "mark": {"type": "line", "color": "#3a5fc4", "strokeWidth": 1.2},
      "encoding": {
        "x": {"field": "time", "type": "temporal"},
        "y": {"field": "level", "type": "quantitative", "scale": {"domain": [0, 10], "range": [410.5, 400.5], "nice": false}, "axis": null}
      }
    }
  ]
}
